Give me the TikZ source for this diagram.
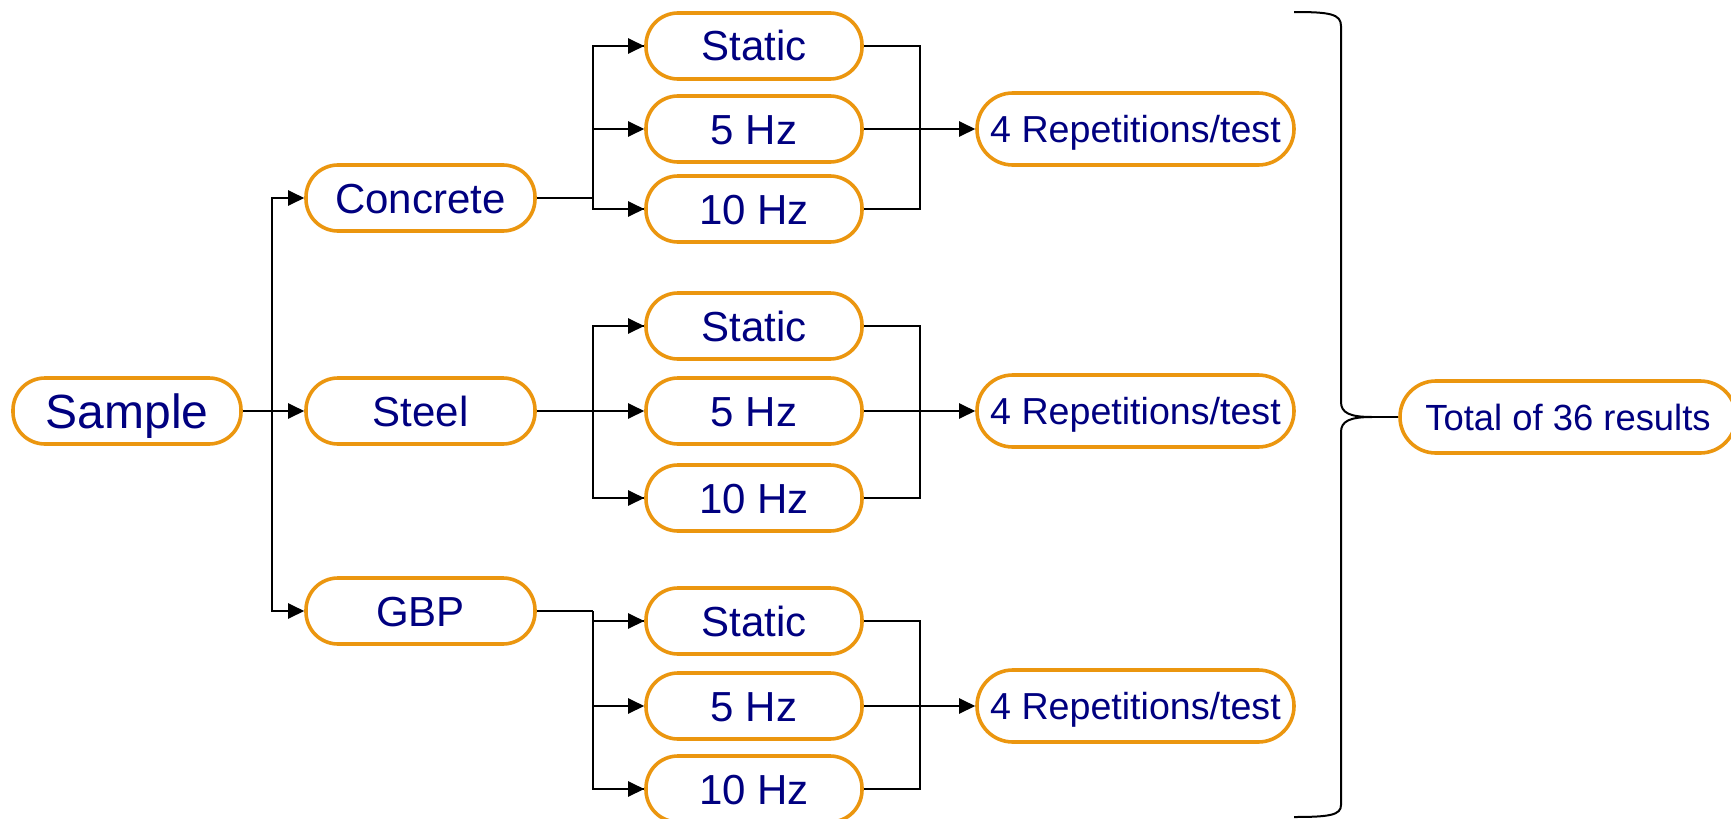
\documentclass[tikz,border=0pt]{standalone}
\usepackage{fontspec}
\setmainfont{Liberation Sans}
\usetikzlibrary{arrows.meta,calc}
\definecolor{boxor}{RGB}{235,150,15}
\definecolor{txtblue}{RGB}{0,0,128}
\tikzset{
  pill/.style={draw=boxor, line width=1.8pt, rounded corners=16pt, minimum height=33pt,
    inner sep=0pt, text=txtblue, fill=white, font=\fontsize{21}{25}\selectfont,
    text height=15pt, text depth=0pt},
  samplebox/.style={pill, minimum width=114pt, font=\fontsize{24}{28}\selectfont, text height=17.2pt},
  matbox/.style={pill, minimum width=114.5pt},
  testbox/.style={pill, minimum width=108pt},
  repbox/.style={pill, minimum width=158.5pt, minimum height=36pt, rounded corners=17.9pt,
    font=\fontsize{18.8}{22}\selectfont, text height=13.5pt},
  totalbox/.style={pill, minimum width=168pt, minimum height=36pt, rounded corners=17.9pt,
    font=\fontsize{18.2}{22}\selectfont, text height=13pt},
  conn/.style={draw=black, line width=1.2pt},
  arr/.style={conn, -{Triangle[length=8pt,width=7.5pt]}},
}
\newcommand\mkgroup[6]{%
  \node[testbox] (#1s) at (754,#3) {Static};
  \node[testbox] (#1f) at (754,#4) {5 Hz};
  \node[testbox] (#1t) at (754,#5) {10 Hz};
  \node[repbox] (#1r) at (1135.5,#4) {4 Repetitions/test};
  \coordinate (#1jl) at (593,#6);
  \coordinate (#1jr) at (920,#4);
  \draw[conn] (#2.east) -- (#1jl);
  \draw[conn] (#1jl) |- (#1s.west);
  \draw[conn] (#1jl) |- (#1t.west);
  \draw[arr] (#1jl) |- (#1s.west);
  \draw[arr] (#1jl) |- (#1f.west);
  \draw[arr] (#1jl) |- (#1t.west);
  \draw[conn] (#1s.east) -| (#1jr);
  \draw[conn] (#1t.east) -| (#1jr);
  \draw[arr] (#1f.east) -- (#1r.west);
}
\begin{document}
\begin{tikzpicture}[x=0.5pt,y=-0.5pt]
\useasboundingbox (0,0) rectangle (1731,819);
\node[samplebox] (sample) at (127,411) {Sample};
\node[matbox] (concrete) at (420.5,198) {Concrete};
\node[matbox] (steel) at (420.5,411) {Steel};
\node[matbox] (gbp) at (420.5,611) {GBP};
\coordinate (j1) at (272,411);
\draw[conn] (sample.east) -- (j1);
\draw[arr] (j1) -- (steel.west);
\draw[arr] (j1) |- (concrete.west);
\draw[arr] (j1) |- (gbp.west);
\mkgroup{a}{concrete}{46}{129}{209}{198}
\mkgroup{b}{steel}{326}{411}{498}{411}
\mkgroup{c}{gbp}{621}{706}{789}{611}
\node[totalbox] (total) at (1568,417) {Total of 36 results};
\coordinate (btop) at (1294,12);
\coordinate (bbot) at (1294,817);
\coordinate (btip) at (1372,417);
\draw[line width=1pt] (btop) .. controls (1330,12) and (1341,14) .. (1341,26)
  -- (1341,402) .. controls (1341,413) and (1350,417) .. (btip)
  .. controls (1350,417) and (1341,421) .. (1341,432)
  -- (1341,805) .. controls (1341,815) and (1330,817) .. (bbot);
\draw[line width=1pt] (btip) -- (total.west);
\end{tikzpicture}
\end{document}
